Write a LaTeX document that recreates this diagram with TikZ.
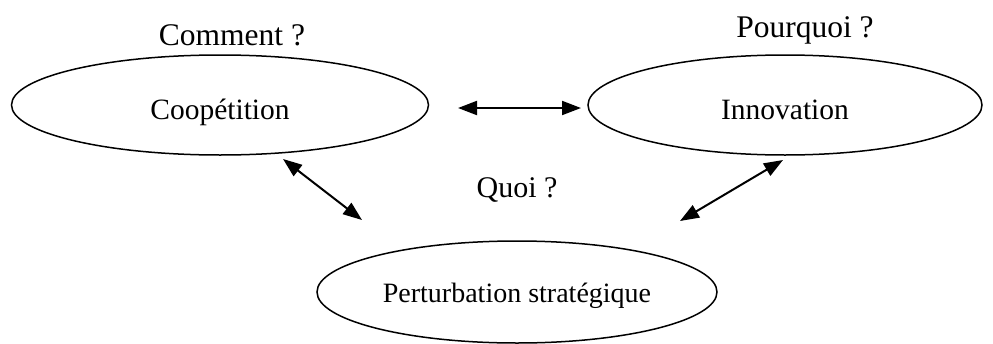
\documentclass[tikz,border=0pt]{standalone}
\usepackage{fontspec}
\setmainfont{Liberation Serif}
\usetikzlibrary{shapes.geometric,arrows.meta}
\tikzset{
  ellipsebox/.style={ellipse, draw, line width=1.5pt, inner sep=0pt,
    font=\fontsize{29.5}{31}\selectfont},
  qlabel/.style={anchor=base, inner sep=0pt, font=\fontsize{31.5}{33}\selectfont},
  link/.style={line width=2pt, {Triangle[length=19pt,width=14pt]}-{Triangle[length=19pt,width=14pt]}}
}
\begin{document}
\begin{tikzpicture}[x=1pt,y=-1pt]
\useasboundingbox (0,0) rectangle (993,343);
\node[ellipsebox, minimum width=417pt, minimum height=100pt] (coop) at (220,105)
  {\raisebox{-14pt}[0pt][0pt]{Coopétition}};
\node[ellipsebox, minimum width=394pt, minimum height=100pt] (innov) at (785,105)
  {\raisebox{-14pt}[0pt][0pt]{Innovation}};
\node[ellipsebox, minimum width=400pt, minimum height=102pt, font=\fontsize{28}{30}\selectfont] (pert) at (517,292)
  {\raisebox{-10pt}[0pt][0pt]{Perturbation stratégique}};
\node[qlabel] (comment) at (232,45) {Comment ?};
\node[qlabel] (pourquoi) at (805,37) {Pourquoi ?};
\node[qlabel, font=\fontsize{30}{32}\selectfont] (quoi) at (517,197) {Quoi ?};
\coordinate (h1) at (458,108);
\coordinate (h2) at (581,108);
\coordinate (l1) at (283,159);
\coordinate (l2) at (362,220);
\coordinate (r1) at (680,221);
\coordinate (r2) at (783,160);
\draw[link] (h1) -- (h2);
\draw[link] (l1) -- (l2);
\draw[link] (r1) -- (r2);
\end{tikzpicture}
\end{document}
